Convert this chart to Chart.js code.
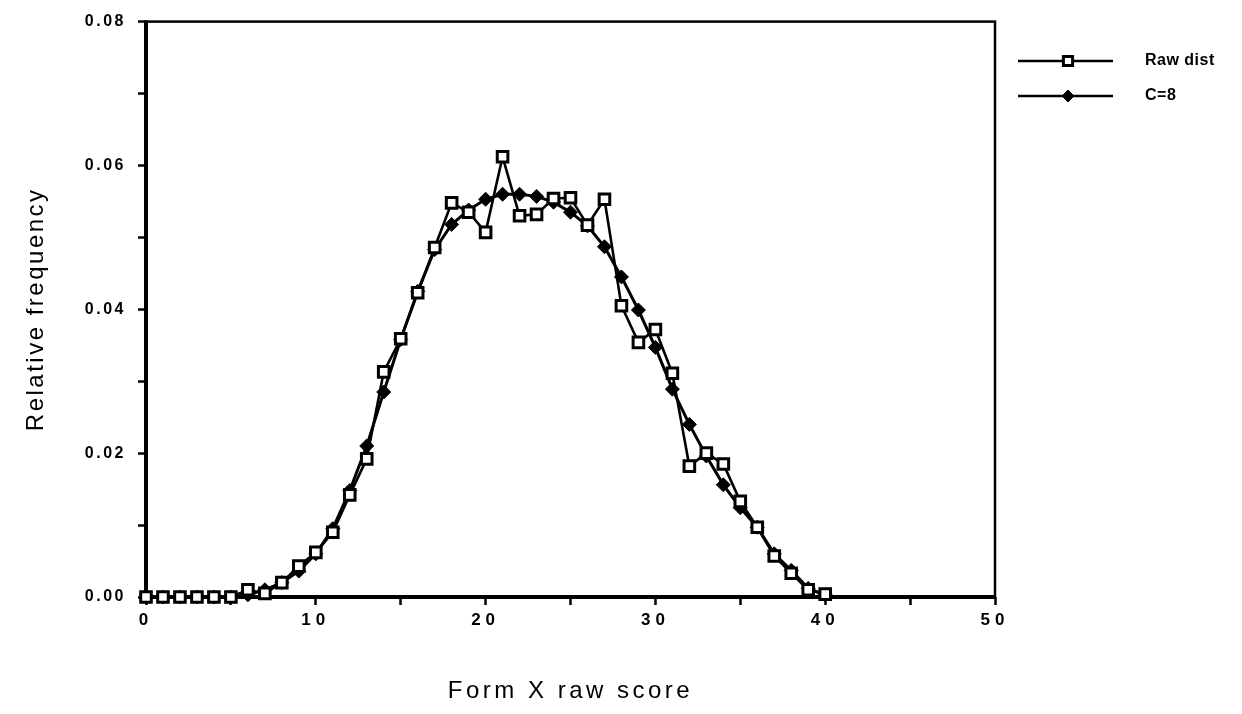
<!DOCTYPE html>
<html>
<head>
<meta charset="utf-8">
<script src="https://cdn.jsdelivr.net/npm/chart.js@4"></script>
<style>
    html, body { margin: 0; padding: 0; background: #fff; }
    #wrap { width: 1242px; height: 714px; position: relative; }
    canvas { display: block; }
</style>
</head>
<body>
<div id="wrap"><canvas id="chart" width="1242" height="714"></canvas></div>
<script>
// values
const scores = [0, 1, 2, 3, 4, 5, 6, 7, 8, 9, 10, 11, 12, 13, 14, 15, 16, 17, 18, 19, 20,
    21, 22, 23, 24, 25, 26, 27, 28, 29, 30, 31, 32, 33, 34, 35, 36, 37, 38, 39, 40]
const rawDist = [0, 0, 0, 0, 0, 0, 0.001, 0.0005, 0.002, 0.0043, 0.0062, 0.009, 0.0142, 0.0192, 0.0313,
    0.0359, 0.0423, 0.0486, 0.0548, 0.0535, 0.0507, 0.0612, 0.053, 0.0532, 0.0554, 0.0555,
    0.0517, 0.0553, 0.0405, 0.0354, 0.0372, 0.0311, 0.0182, 0.0200, 0.0185, 0.0133,
    0.0097, 0.0057, 0.0033, 0.001, 0.0004]
const smoothC8 = [0, 0, 0, 0, 0, 0, 0.0003, 0.001, 0.002, 0.0036, 0.006, 0.0095, 0.0148, 0.021, 0.0285,
    0.0358, 0.0425, 0.0483, 0.0518, 0.0538, 0.0553, 0.056, 0.056, 0.0557, 0.0549, 0.0535,
    0.0516, 0.0487, 0.0445, 0.0399, 0.0347, 0.0289, 0.024, 0.0196, 0.0156, 0.0124,
    0.0097, 0.006, 0.0037, 0.0012, 0.0003]
const seriesNames = ['Raw dist', 'C=8']
const xTitle = 'Form X raw score'
const yTitle = 'Relative frequency'

const FONT = "'Liberation Sans', Arial, Helvetica, sans-serif"

const toPoints = values => values.map((v, i) => ({ x: scores[i], y: v }))

// wrap a scale's label/title drawing so it gets its own letter spacing
function spaced(scale, tickSpacing, titleSpacing) {
    if (scale._spaced) return
    scale._spaced = true
    const ctx = scale.ctx
    const drawLabels = scale.drawLabels.bind(scale)
    const drawTitle = scale.drawTitle.bind(scale)
    scale.drawLabels = area => { ctx.save(); ctx.letterSpacing = tickSpacing; drawLabels(area); ctx.restore() }
    scale.drawTitle = area => { ctx.save(); ctx.letterSpacing = titleSpacing; drawTitle(area); ctx.restore() }
}

const framePlugin = {
    id: 'frame',
    afterLayout(chart) {
        spaced(chart.scales.x, '5px', '3.5px')
        spaced(chart.scales.y, '2.5px', '2.5px')
    },
    beforeDatasetsDraw(chart) {
        const { ctx, chartArea: a } = chart
        ctx.save()
        ctx.strokeStyle = '#000'
        ctx.lineWidth = 2.5
        ctx.strokeRect(a.left, a.top, a.right - a.left, a.bottom - a.top)
        ctx.lineWidth = 4
        ctx.beginPath()
        ctx.moveTo(a.left - 1, a.bottom)
        ctx.lineTo(a.right + 1, a.bottom)
        ctx.moveTo(a.left, a.top - 1)
        ctx.lineTo(a.left, a.bottom + 1)
        ctx.stroke()
        ctx.restore()
    },
    afterDraw(chart) {
        const ctx = chart.ctx
        const rows = [{ y: 61, style: 'rect' }, { y: 96, style: 'rectRot' }]
        ctx.save()
        rows.forEach((row, i) => {
            const ds = chart.data.datasets[i]
            ctx.strokeStyle = '#000'
            ctx.lineWidth = 2.5
            ctx.beginPath()
            ctx.moveTo(1018, row.y)
            ctx.lineTo(1113, row.y)
            ctx.stroke()
            ctx.fillStyle = ds.pointBackgroundColor
            ctx.strokeStyle = '#000'
            ctx.lineWidth = ds.pointBorderWidth
            Chart.helpers.drawPoint(ctx, {
                pointStyle: row.style, radius: ds.pointRadius - 1, borderWidth: ds.pointBorderWidth
            }, 1068, row.y)
            ctx.fillStyle = '#000'
            ctx.font = 'bold 16px ' + FONT
            ctx.letterSpacing = '0.5px'
            ctx.textBaseline = 'middle'
            ctx.textAlign = 'left'
            ctx.fillText(seriesNames[i], 1145, row.y)
            ctx.letterSpacing = '0px'
        })
        ctx.restore()
    }
}

new Chart(document.getElementById('chart'), {
    type: 'line',
    data: {
        datasets: [{
            label: seriesNames[0],
            data: toPoints(rawDist),
            borderColor: '#000',
            borderWidth: 2.6,
            pointStyle: 'rect',
            pointRadius: 7.5,
            pointBorderWidth: 3,
            pointBackgroundColor: '#fff',
            pointBorderColor: '#000',
            tension: 0,
            clip: false,
            order: 1
        }, {
            label: seriesNames[1],
            data: toPoints(smoothC8),
            borderColor: '#000',
            borderWidth: 3,
            pointStyle: 'rectRot',
            pointRadius: 7,
            pointBorderWidth: 1,
            pointBackgroundColor: '#000',
            pointBorderColor: '#000',
            tension: 0,
            clip: false,
            order: 2
        }]
    },
    options: {
        responsive: false,
        animation: false,
        devicePixelRatio: 1,
        layout: { padding: { left: 0, top: 18, right: 247, bottom: 0 } },
        plugins: { legend: { display: false }, tooltip: { enabled: false } },
        scales: {
            x: {
                type: 'linear',
                min: 0,
                max: 50,
                afterFit: scale => { scale.height = 117 },
                border: { display: false },
                grid: { drawOnChartArea: false, drawTicks: true, tickLength: 8, tickWidth: 2.5, tickColor: '#000' },
                ticks: {
                    stepSize: 5,
                    autoSkip: false,
                    maxRotation: 0,
                    padding: 5,
                    color: '#000',
                    font: { family: FONT, size: 17, weight: 'bold' },
                    callback: v => v % 10 === 0 ? String(v) : ''
                },
                title: {
                    display: true,
                    text: xTitle,
                    color: '#000',
                    font: { family: FONT, size: 24 },
                    padding: { top: 0, bottom: 8 }
                }
            },
            y: {
                min: 0,
                max: 0.08,
                afterFit: scale => { scale.width = 146 },
                border: { display: false },
                grid: { drawOnChartArea: false, drawTicks: true, tickLength: 8, tickWidth: 2.5, tickColor: '#000' },
                ticks: {
                    stepSize: 0.01,
                    autoSkip: false,
                    padding: 12,
                    color: '#000',
                    font: { family: FONT, size: 16, weight: 'bold' },
                    callback: v => Math.round(v * 100) % 2 === 0 ? v.toFixed(2) : ''
                },
                title: {
                    display: true,
                    text: yTitle,
                    color: '#000',
                    font: { family: FONT, size: 24 },
                    padding: { top: 22, bottom: 0 }
                }
            }
        }
    },
    plugins: [framePlugin]
})
</script>
</body>
</html>
